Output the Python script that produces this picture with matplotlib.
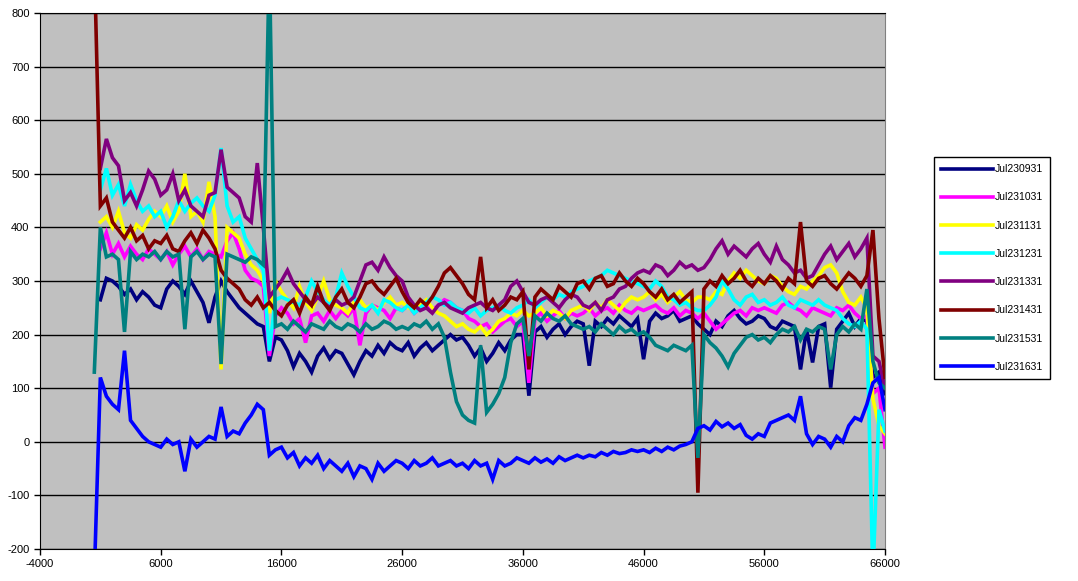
import numpy as np
import matplotlib
matplotlib.use("Agg")
import matplotlib.pyplot as plt

plt.rcParams['font.family'] = ['Liberation Sans', 'DejaVu Sans']
plt.rcParams['axes.unicode_minus'] = False

# sample positions (every 500)
x = np.arange(500, 66001, 500)
nan = np.nan

labels = ["Jul230931", "Jul231031", "Jul231131", "Jul231231",
          "Jul231331", "Jul231431", "Jul231531", "Jul231631"]
colors = ["#000080", "#ff00ff", "#ffff00", "#00ffff",
          "#800080", "#800000", "#008080", "#0000ff"]

jul230931 = [nan, 265, 305, 300, 290, 275, 285, 265, 280, 270, 255,
             250, 285, 300, 290, 275, 300, 280, 260, 222, 270,
             300, 280, 265, 250, 240, 230, 220, 215, 150, 195,
             190, 170, 140, 165, 150, 130, 160, 175, 155, 170,
             165, 145, 125, 150, 170, 160, 180, 165, 185, 175,
             170, 185, 160, 175, 185, 170, 180, 190, 200, 190,
             195, 180, 160, 175, 150, 165, 185, 170, 190, 200,
             200, 86, 205, 215, 195, 210, 220, 200, 215, 225,
             220, 142, 225, 215, 230, 220, 235, 225, 215, 230,
             154, 225, 240, 230, 235, 245, 225, 230, 235, 220,
             210, 200, 225, 215, 235, 245, 230, 220, 225, 235,
             230, 215, 210, 225, 220, 215, 135, 210, 148, 215,
             220, 101, 210, 225, 240, 215, 230, 225, 120, 130, 90]

jul231031 = [nan, 360, 390, 350, 370, 345, 365, 350, 340, 360, 350,
             340, 355, 330, 350, 365, 345, 360, 340, 355, 350,
             345, 375, 390, 360, 320, 305, 300, 290, 160, 235,
             250, 240, 220, 230, 185, 235, 240, 225, 245, 230,
             245, 235, 250, 180, 240, 255, 250, 245, 230, 250,
             245, 255, 240, 250, 260, 245, 255, 265, 260, 250,
             245, 230, 225, 215, 220, 205, 215, 225, 230, 215,
             225, 110, 230, 240, 225, 235, 245, 230, 240, 235,
             240, 250, 235, 245, 250, 240, 255, 245, 240, 250,
             245, 250, 255, 245, 240, 250, 235, 245, 240, 230,
             240, 225, 210, 220, 230, 240, 245, 235, 250, 245,
             250, 245, 240, 255, 260, 250, 245, 235, 250, 245,
             240, 235, 250, 245, 255, 240, 230, 235, 90, 100, -10]

jul231131 = [nan, 410, 420, 400, 430, 390, 380, 405, 395, 415, 430,
             420, 440, 410, 430, 500, 420, 430, 410, 485, 420,
             135, 400, 390, 380, 350, 330, 320, 300, 240, 300,
             280, 265, 250, 290, 260, 245, 270, 300, 265, 255,
             250, 240, 260, 265, 250, 255, 245, 260, 270, 255,
             260, 250, 245, 255, 265, 250, 240, 235, 225, 215,
             220, 210, 205, 215, 200, 210, 225, 230, 240, 235,
             245, 235, 240, 250, 235, 245, 240, 230, 245, 250,
             255, 245, 260, 250, 265, 255, 245, 260, 270, 265,
             270, 280, 265, 275, 260, 270, 280, 265, 260, 270,
             270, 265, 280, 275, 300, 315, 305, 320, 310, 300,
             295, 310, 305, 290, 280, 275, 290, 285, 300, 310,
             325, 330, 315, 280, 260, 255, 270, 250, 80, 30, 15]

jul231231 = [nan, 470, 510, 460, 480, 440, 480, 450, 430, 440, 420,
             430, 400, 420, 450, 430, 445, 455, 440, 430, 460,
             548, 440, 410, 420, 380, 360, 340, 320, 170, 265,
             270, 265, 260, 255, 270, 300, 280, 265, 255, 270,
             315, 290, 270, 250, 245, 255, 240, 265, 260, 250,
             245, 255, 240, 250, 260, 270, 265, 255, 260, 250,
             245, 240, 250, 235, 245, 250, 255, 245, 240, 250,
             255, 265, 250, 260, 270, 265, 275, 270, 280, 285,
             290, 300, 305, 310, 320, 315, 310, 305, 300, 295,
             290, 285, 300, 290, 270, 265, 255, 260, 250, 245,
             245, 255, 270, 300, 285, 265, 255, 270, 275, 260,
             265, 255, 260, 270, 255, 250, 265, 260, 255, 265,
             255, 250, 245, 230, 220, 215, 225, 210, -250, 60, 20]

jul231331 = [nan, 510, 565, 530, 515, 450, 465, 440, 470, 505, 490,
             460, 470, 500, 450, 470, 440, 430, 420, 460, 465,
             545, 475, 465, 455, 420, 410, 520, 400, 270, 285,
             300, 320, 295, 280, 265, 255, 270, 260, 250, 265,
             255, 260, 270, 300, 330, 335, 320, 345, 325, 310,
             300, 270, 255, 245, 250, 240, 255, 260, 250, 245,
             240, 250, 255, 260, 250, 245, 255, 265, 290, 300,
             280, 260, 255, 265, 270, 260, 250, 265, 275, 270,
             255, 250, 260, 245, 265, 270, 285, 290, 305, 315,
             320, 315, 330, 325, 310, 320, 335, 325, 330, 320,
             325, 340, 360, 375, 350, 365, 355, 345, 360, 370,
             350, 335, 365, 340, 330, 315, 320, 305, 310, 330,
             350, 365, 340, 355, 370, 345, 360, 380, 160, 150, 100]

jul231431 = [900, 440, 455, 410, 395, 380, 400, 375, 385, 360, 375,
             370, 385, 360, 355, 375, 390, 370, 395, 380, 360,
             320, 305, 295, 285, 265, 255, 270, 250, 260, 245,
             235, 255, 265, 240, 270, 255, 290, 260, 245, 270,
             285, 260, 250, 270, 295, 300, 285, 275, 290, 305,
             280, 260, 250, 265, 255, 270, 290, 315, 325, 310,
             295, 275, 265, 345, 250, 265, 245, 255, 270, 265,
             280, 135, 270, 285, 275, 265, 290, 280, 270, 295,
             300, 285, 305, 310, 290, 295, 315, 300, 290, 305,
             295, 280, 270, 285, 265, 275, 260, 270, 280, -95,
             285, 300, 290, 310, 295, 305, 320, 300, 290, 305,
             295, 310, 300, 285, 305, 295, 410, 300, 290, 305,
             310, 295, 285, 300, 315, 305, 290, 310, 395, 230, 120]

jul231531 = [130, 400, 345, 350, 340, 205, 355, 340, 350, 345, 355,
             340, 355, 345, 350, 210, 345, 355, 340, 350, 345,
             145, 350, 345, 340, 335, 345, 340, 330, 900, 215,
             220, 210, 225, 215, 205, 220, 215, 210, 225, 215,
             210, 220, 215, 205, 220, 210, 215, 225, 220, 210,
             215, 210, 220, 215, 225, 210, 220, 195, 130, 75,
             50, 40, 35, 180, 55, 70, 90, 120, 185, 220,
             230, 160, 235, 225, 240, 230, 225, 235, 220, 215,
             210, 215, 205, 220, 210, 200, 215, 205, 210, 200,
             205, 195, 180, 175, 170, 180, 175, 170, 180, -30,
             200, 185, 175, 160, 140, 165, 180, 195, 200, 190,
             195, 185, 200, 210, 205, 215, 190, 210, 205, 215,
             210, 135, 200, 215, 205, 220, 210, 285, 150, 110, 100]

jul231631 = [-250, 120, 85, 70, 60, 170, 40, 25, 10, 0, -5,
             -10, 5, -5, 0, -55, 5, -10, 0, 10, 5,
             65, 10, 20, 15, 35, 50, 70, 60, -25, -15,
             -10, -30, -20, -45, -30, -40, -25, -50, -35, -45,
             -55, -40, -65, -45, -50, -70, -40, -55, -45, -35,
             -40, -50, -35, -45, -40, -30, -45, -40, -35, -45,
             -40, -50, -35, -45, -40, -70, -35, -45, -40, -30,
             -35, -40, -30, -38, -32, -40, -28, -35, -30, -25,
             -30, -25, -28, -20, -25, -18, -22, -20, -15, -18,
             -15, -20, -12, -18, -10, -15, -8, -5, 0, 25,
             30, 22, 38, 28, 35, 25, 32, 12, 5, 15,
             10, 35, 40, 45, 50, 40, 85, 15, -5, 10,
             5, -10, 10, 0, 30, 45, 40, 70, 110, 120, 60]

series = [jul230931, jul231031, jul231131, jul231231,
          jul231331, jul231431, jul231531, jul231631]

fig = plt.figure(figsize=(10.78, 5.81), dpi=100)
ax = fig.add_axes([40/1078, 32/581, 845/1078, 536/581])
ax.set_facecolor("#c0c0c0")

for vals, lab, col in zip(series, labels, colors):
    ax.plot(x, vals, color=col, lw=2.6, label=lab, solid_joinstyle="miter")

ax.set_xlim(-4000, 66000)
ax.set_ylim(-200, 800)
ax.set_xticks(range(-4000, 66001, 10000))
ax.set_yticks(range(-200, 801, 100))
ax.yaxis.grid(True, color="black", lw=1)
ax.set_axisbelow(True)
ax.tick_params(labelsize=8, length=4, width=1, direction="out")
ax.spines["right"].set_color("#808080")
ax.spines["top"].set_color("black")

leg = fig.legend(loc="center", bbox_to_anchor=(992/1078, 1-268/581),
                 fontsize=7.5, handlelength=5, handletextpad=0.1,
                 labelspacing=1.75, borderpad=0.7, fancybox=False,
                 edgecolor="black", framealpha=1)
leg.get_frame().set_linewidth(1)

fig.savefig("out.png", dpi=100, facecolor="white")
